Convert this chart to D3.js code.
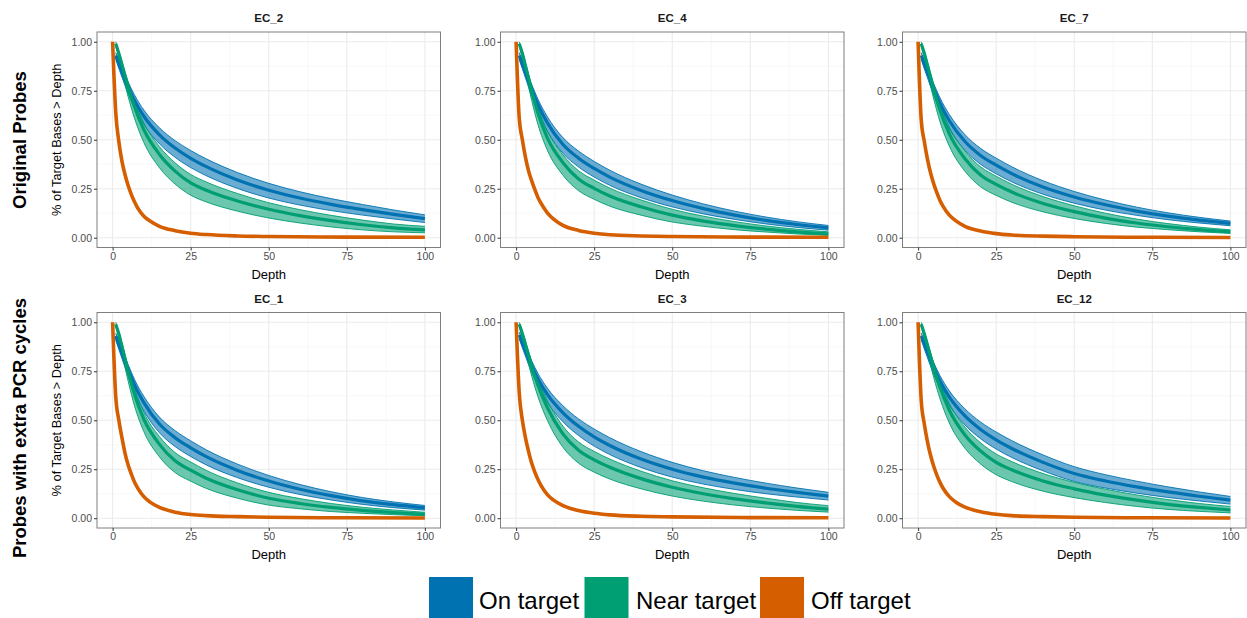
<!DOCTYPE html>
<html><head><meta charset="utf-8">
<script src="https://cdn.jsdelivr.net/npm/d3@7"></script>
<style>
body{margin:0;background:#fff}
text{font-family:"Liberation Sans",Arial,Helvetica,sans-serif}
</style>
</head><body>
<svg id="c" width="1247" height="618"></svg>
<script>
// ---------- DATA ----------
const panels = ["EC_2","EC_4","EC_7","EC_1","EC_3","EC_12"];
const rowLabels = ["Original Probes","Probes with extra PCR cycles"];
const seriesNames = ["On target","Near target","Off target"];
const xTicks = [0,25,50,75,100];
const yTicks = [0,0.25,0.5,0.75,1];
const depths = [1,2,3,5,7,10,15,20,25,30,40,50,60,70,80,90,100];
const offDepths = [0,1,2,3,4,5,6,7,8,10,12,15,20,25,30,40,50,75,100];

const onMean = [
 [0.93,0.888,0.847,0.769,0.701,0.62,0.525,0.4575,0.405,0.3625,0.2945,0.2425,0.2025,0.1705,0.1435,0.1195,0.0975],
 [0.93,0.886,0.843,0.757,0.679,0.586,0.476,0.406,0.3535,0.3095,0.2415,0.1895,0.1485,0.1155,0.0885,0.0675,0.0505],
 [0.93,0.886,0.844,0.761,0.686,0.597,0.491,0.42,0.37,0.327,0.259,0.208,0.168,0.136,0.11,0.09,0.073],
 [0.93,0.886,0.843,0.758,0.681,0.59,0.481,0.411,0.359,0.314,0.244,0.19,0.148,0.115,0.0885,0.069,0.053],
 [0.935,0.894,0.854,0.778,0.711,0.632,0.538,0.469,0.415,0.371,0.302,0.25,0.21,0.179,0.153,0.132,0.113],
 [0.93,0.888,0.847,0.769,0.70,0.618,0.522,0.453,0.40,0.356,0.285,0.228,0.19,0.16,0.134,0.112,0.092]
];
const onHi = [
 [0.945,0.906,0.867,0.794,0.729,0.652,0.561,0.4955,0.445,0.4025,0.3325,0.2775,0.2345,0.1995,0.1695,0.1415,0.1165],
 [0.945,0.904,0.863,0.782,0.707,0.618,0.511,0.442,0.3895,0.3445,0.2735,0.2175,0.1725,0.1355,0.1055,0.0815,0.0625],
 [0.945,0.904,0.864,0.786,0.714,0.629,0.526,0.456,0.406,0.362,0.291,0.236,0.192,0.156,0.127,0.104,0.085],
 [0.945,0.904,0.863,0.783,0.709,0.622,0.516,0.447,0.395,0.349,0.276,0.218,0.172,0.135,0.1055,0.083,0.065],
 [0.95,0.912,0.874,0.803,0.739,0.664,0.574,0.507,0.455,0.411,0.34,0.285,0.242,0.208,0.179,0.154,0.132],
 [0.945,0.906,0.867,0.794,0.728,0.65,0.558,0.491,0.44,0.396,0.323,0.263,0.222,0.189,0.16,0.134,0.111]
];
const onLo = [
 [0.91,0.864,0.819,0.735,0.663,0.578,0.479,0.4105,0.358,0.3165,0.2515,0.2025,0.1665,0.1385,0.1155,0.0955,0.0775],
 [0.91,0.862,0.815,0.723,0.641,0.544,0.431,0.361,0.3095,0.2675,0.2045,0.1575,0.1215,0.0935,0.0705,0.0525,0.0385],
 [0.91,0.862,0.816,0.727,0.648,0.555,0.446,0.375,0.326,0.285,0.222,0.176,0.141,0.114,0.092,0.075,0.061],
 [0.91,0.862,0.815,0.724,0.643,0.548,0.436,0.366,0.315,0.272,0.207,0.158,0.121,0.093,0.0705,0.054,0.041],
 [0.915,0.87,0.826,0.744,0.673,0.59,0.492,0.422,0.368,0.325,0.259,0.21,0.174,0.147,0.125,0.108,0.093],
 [0.91,0.864,0.819,0.735,0.662,0.576,0.476,0.406,0.353,0.31,0.242,0.188,0.154,0.128,0.106,0.088,0.072]
];
const nearMean = [
 [0.99,0.94,0.882,0.768,0.668,0.551,0.425,0.34,0.28,0.2425,0.1875,0.1455,0.113,0.087,0.066,0.05,0.04],
 [0.99,0.94,0.877,0.75,0.635,0.51,0.383,0.30,0.252,0.213,0.158,0.115,0.085,0.062,0.044,0.03,0.02],
 [0.99,0.94,0.879,0.758,0.65,0.53,0.403,0.32,0.272,0.233,0.175,0.133,0.10,0.075,0.056,0.041,0.03],
 [0.99,0.94,0.877,0.748,0.632,0.505,0.377,0.293,0.245,0.204,0.145,0.102,0.075,0.055,0.04,0.029,0.02],
 [0.99,0.942,0.886,0.775,0.678,0.565,0.43,0.347,0.298,0.26,0.202,0.158,0.125,0.099,0.078,0.06,0.046],
 [0.99,0.94,0.882,0.768,0.668,0.551,0.425,0.343,0.285,0.247,0.19,0.15,0.118,0.092,0.071,0.055,0.042]
];
const nearHi = [
 [1.0,0.952,0.90,0.793,0.698,0.586,0.465,0.382,0.323,0.2845,0.2255,0.1785,0.143,0.114,0.09,0.07,0.058],
 [1.0,0.952,0.895,0.775,0.665,0.545,0.423,0.342,0.294,0.253,0.193,0.145,0.11,0.082,0.06,0.043,0.03],
 [1.0,0.952,0.897,0.783,0.68,0.565,0.443,0.362,0.314,0.273,0.21,0.163,0.125,0.095,0.072,0.054,0.04],
 [1.0,0.952,0.895,0.773,0.662,0.54,0.417,0.335,0.287,0.244,0.18,0.132,0.10,0.075,0.056,0.042,0.03],
 [1.0,0.954,0.904,0.80,0.708,0.60,0.47,0.389,0.341,0.302,0.24,0.191,0.155,0.126,0.102,0.08,0.064],
 [1.0,0.952,0.90,0.793,0.698,0.586,0.465,0.385,0.328,0.289,0.228,0.183,0.148,0.119,0.095,0.075,0.06]
];
const nearLo = [
 [0.98,0.915,0.847,0.718,0.61,0.486,0.357,0.274,0.217,0.1825,0.1355,0.1005,0.075,0.055,0.04,0.03,0.025],
 [0.98,0.915,0.842,0.70,0.577,0.447,0.319,0.24,0.196,0.161,0.115,0.08,0.058,0.041,0.029,0.019,0.012],
 [0.98,0.915,0.844,0.708,0.592,0.467,0.339,0.26,0.216,0.181,0.132,0.098,0.073,0.054,0.041,0.03,0.022],
 [0.98,0.915,0.842,0.698,0.574,0.442,0.313,0.233,0.189,0.152,0.102,0.067,0.048,0.034,0.025,0.018,0.012],
 [0.98,0.917,0.851,0.725,0.62,0.50,0.362,0.281,0.235,0.20,0.15,0.113,0.087,0.067,0.052,0.04,0.031],
 [0.98,0.915,0.847,0.718,0.61,0.486,0.357,0.277,0.222,0.187,0.138,0.105,0.08,0.06,0.045,0.035,0.027]
];
const offMean = [
 [1,0.64,0.49,0.39,0.32,0.265,0.22,0.183,0.152,0.11,0.085,0.058,0.036,0.023,0.016,0.009,0.006,0.003,0.002],
 [1,0.61,0.50,0.41,0.34,0.29,0.245,0.205,0.175,0.127,0.095,0.063,0.037,0.023,0.015,0.009,0.006,0.003,0.002],
 [1,0.60,0.49,0.40,0.33,0.275,0.23,0.19,0.16,0.115,0.087,0.058,0.034,0.021,0.014,0.008,0.005,0.002,0.001],
 [1,0.62,0.50,0.41,0.33,0.27,0.225,0.185,0.155,0.11,0.082,0.055,0.031,0.019,0.013,0.008,0.005,0.002,0.001],
 [1,0.64,0.50,0.41,0.34,0.28,0.235,0.197,0.166,0.12,0.092,0.064,0.039,0.025,0.017,0.01,0.007,0.003,0.002],
 [1,0.60,0.48,0.39,0.32,0.265,0.22,0.183,0.153,0.11,0.083,0.056,0.033,0.02,0.013,0.008,0.005,0.002,0.001]
];
const colors = ["#0072B2","#009E73","#D55E00"];

// ---------- LAYOUT ----------
const svg = d3.select("#c");
svg.append("rect").attr("width",1247).attr("height",618).attr("fill","#fff");
const colLeft = [97, 500.5, 902.5], pw = 343.5;
const rowTop = [32, 312.5], ph = 215.5;

panels.forEach((name, i) => {
  const r = Math.floor(i/3), c = i%3;
  const g = svg.append("g").attr("transform",`translate(${colLeft[c]},${rowTop[r]})`);
  const x = d3.scaleLinear().domain([-5,105]).range([0,pw]);
  const y = d3.scaleLinear().domain([-0.05,1.05]).range([ph,0]);

  const xMinor = [12.5,37.5,62.5,87.5], yMinor = [0.125,0.375,0.625,0.875];
  g.append("g").selectAll("line").data(xMinor).join("line").attr("x1",d=>x(d)).attr("x2",d=>x(d)).attr("y1",0).attr("y2",ph)
    .attr("stroke","#f3f3f3").attr("stroke-width",0.6);
  g.append("g").selectAll("line").data(yMinor).join("line").attr("y1",d=>y(d)).attr("y2",d=>y(d)).attr("x1",0).attr("x2",pw)
    .attr("stroke","#f3f3f3").attr("stroke-width",0.6);
  g.append("g").selectAll("line").data(xTicks).join("line").attr("x1",d=>x(d)).attr("x2",d=>x(d)).attr("y1",0).attr("y2",ph)
    .attr("stroke","#ebebeb").attr("stroke-width",1.1);
  g.append("g").selectAll("line").data(yTicks).join("line").attr("y1",d=>y(d)).attr("y2",d=>y(d)).attr("x1",0).attr("x2",pw)
    .attr("stroke","#ebebeb").attr("stroke-width",1.1);

  const cv = d3.curveMonotoneX;
  const area = d3.area().x(d=>x(d.d)).y0(d=>y(d.lo)).y1(d=>y(d.hi)).curve(cv);
  const line = d3.line().x(d=>x(d.d)).y(d=>y(d.v)).curve(cv);
  const hiLine = d3.line().x(d=>x(d.d)).y(d=>y(d.hi)).curve(cv);
  const loLine = d3.line().x(d=>x(d.d)).y(d=>y(d.lo)).curve(cv);

  const onData = depths.map((d,k)=>({d, v:onMean[i][k], lo:onLo[i][k], hi:onHi[i][k]}));
  const nearData = depths.map((d,k)=>({d, v:nearMean[i][k], lo:nearLo[i][k], hi:nearHi[i][k]}));
  const offData = offDepths.map((d,k)=>({d, v:offMean[i][k]}));

  [onData, nearData].forEach((data, s) => {
    g.append("path").datum(data).attr("d",area).attr("fill",colors[s]).attr("fill-opacity",0.58);
    g.append("path").datum(data).attr("d",hiLine).attr("fill","none").attr("stroke",colors[s]).attr("stroke-width",0.9);
    g.append("path").datum(data).attr("d",loLine).attr("fill","none").attr("stroke",colors[s]).attr("stroke-width",0.9);
  });
  [onData, nearData].forEach((data, s) => {
    g.append("path").datum(data).attr("d",line).attr("fill","none").attr("stroke",colors[s]).attr("stroke-width",3.2);
  });
  g.append("path").datum(offData).attr("d",line).attr("fill","none").attr("stroke",colors[2]).attr("stroke-width",3.6);

  g.append("rect").attr("width",pw).attr("height",ph).attr("fill","none").attr("stroke","#7f7f7f").attr("stroke-width",1);

  const ax = g.append("g").attr("transform",`translate(0,${ph})`)
    .call(d3.axisBottom(x).tickValues(xTicks).tickSize(3).tickPadding(2).tickFormat(d3.format("d")));
  const ay = g.append("g").call(d3.axisLeft(y).tickValues(yTicks).tickSize(3).tickPadding(2).tickFormat(d3.format(".2f")));
  [ax, ay].forEach(a => {
    a.select(".domain").remove();
    a.selectAll(".tick line").attr("stroke","#333");
    a.selectAll(".tick text").attr("fill","#4d4d4d").style("font-size","10.5px")
      .style("font-family",'"Liberation Sans",Arial,sans-serif');
  });

  g.append("text").attr("x",pw/2).attr("y",-10).attr("text-anchor","middle")
    .style("font-size","11.5px").style("font-weight","bold").attr("fill","#1a1a1a").text(name);
  g.append("text").attr("x",pw/2).attr("y",ph+31).attr("text-anchor","middle")
    .style("font-size","13px").attr("fill","#000").text("Depth");
  if (c === 0) {
    g.append("text").attr("transform",`translate(-40,${ph/2}) rotate(-90)`).attr("text-anchor","middle")
      .attr("dy","0.35em").style("font-size","12.8px").attr("fill","#000").text("% of Target Bases > Depth");
  }
});

const rowCenters = [140, 428];
rowLabels.forEach((t, r) => {
  svg.append("text").attr("transform",`translate(20,${rowCenters[r]}) rotate(-90)`).attr("text-anchor","middle")
    .attr("dy","0.35em").style("font-size","18.5px").style("font-weight","bold").attr("fill","#000").text(t);
});

const legX = [429, 584.5, 760], legTextX = [479, 636, 811];
seriesNames.forEach((t, s) => {
  svg.append("rect").attr("x",legX[s]).attr("y",577).attr("width",44).attr("height",44).attr("fill",colors[s]);
  svg.append("text").attr("x",legTextX[s]).attr("y",609).style("font-size","24px").attr("fill","#000").text(t);
});
</script>
</body></html>
